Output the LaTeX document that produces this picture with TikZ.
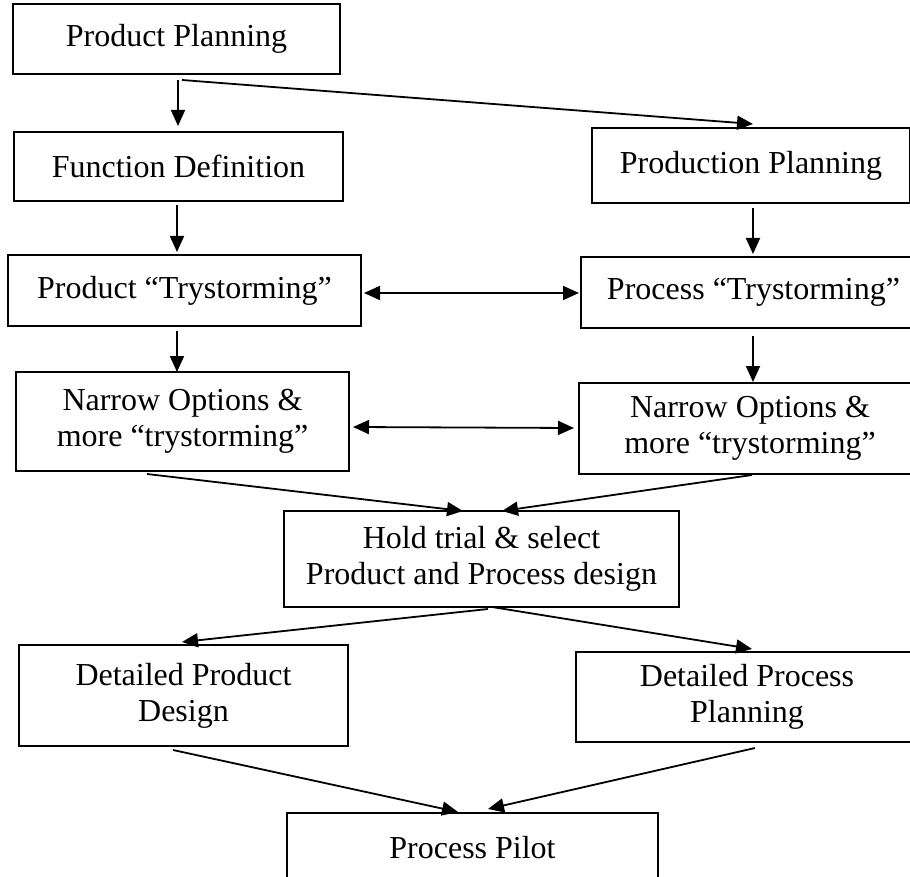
\documentclass[tikz,border=0pt]{standalone}
\usepackage{fontspec}
\setmainfont{Liberation Serif}
\usetikzlibrary{positioning,arrows.meta,calc}

\begin{document}
\begin{tikzpicture}[x=0.5pt, y=-0.5pt,
  stage/.style={rectangle, draw, line width=1pt, align=center, inner sep=0pt, font=\fontsize{16}{18}\selectfont},
  flow/.style={-{Triangle[length=8pt,width=7pt]}, line width=0.9pt},
  both/.style={{Triangle[length=8pt,width=7pt]}-{Triangle[length=8pt,width=7pt]}, line width=0.9pt},
]
  \clip (0,0) rectangle (910,877);

  % product side
  \node[stage, minimum width=163.5pt, minimum height=35pt] (PP) at (176.5,39) {Product Planning};
  \node[stage, minimum width=164.5pt, minimum height=34.5pt] (FD) at (178.5,166.5) {Function Definition};
  \node[stage, minimum width=176.5pt, minimum height=35.5pt] (PT) at (184.5,290.5) {Product “Trystorming”};
  \node[stage, minimum width=166.5pt, minimum height=49.5pt] (NL) at (182.5,421.5) {Narrow Options \&\\more “trystorming”};

  % process side
  \node[stage, minimum width=159pt, minimum height=37.5pt] (PrP) at (751,165.5) {Production Planning};
  \node[stage, minimum width=172.5pt, minimum height=35.5pt] (PcT) at (753.5,292.5) {Process “Trystorming”};
  \node[stage, minimum width=171pt, minimum height=45.5pt] (NR) at (750,428.5) {Narrow Options \&\\more “trystorming”};

  \node[stage, minimum width=197.5pt, minimum height=48pt] (HT) at (481.5,559) {Hold trial \& select\\Product and Process design};
  \node[stage, minimum width=164.5pt, minimum height=50.5pt] (DPD) at (183.5,695.5) {Detailed Product\\Design};
  \node[stage, minimum width=171pt, minimum height=45pt] (DPP) at (747,697) {Detailed Process\\Planning};
  \node[stage, minimum width=185.5pt, minimum height=35pt] (PPi) at (472.5,848) {Process Pilot};

  \draw[flow] ($(PP.south)+(1.5,5)$) -- ($(FD.north)+(-0.5,-5)$);
  \draw[flow] ($(PP.south)+(5.5,5)$) -- ($(PrP.north)+(2,-3)$);
  \draw[flow] ($(FD.south)+(-1.5,3)$) -- ($(PT.north)+(-7.5,-2)$);
  \draw[flow] ($(PrP.south)+(2,4)$) -- ($(PcT.north)+(-0.5,-2)$);
  \draw[both] ($(PT.east)+(2,2.5)$) -- ($(PcT.west)+(-1,0.5)$);
  \draw[flow] ($(PT.south)+(-7.5,4)$) -- ($(NL.north)+(-5.5,1)$);
  \draw[flow] ($(PcT.south)+(-0.5,7)$) -- ($(NR.north)+(3,0)$);
  \draw[both] ($(NL.east)+(3,5.5)$) -- ($(NR.west)+(-4,-0.5)$);

  % merge into trial, then split
  \draw[flow] ($(NL.south)+(-35.5,2)$) -- ($(HT.north)+(-18.5,1)$);
  \draw[flow] ($(NR.south)+(2,0)$) -- ($(HT.north)+(20.5,1)$);
  \draw[flow] ($(HT.south)+(6.5,1)$) -- ($(DPD.north)+(-1.5,-2)$);
  \draw[flow] ($(HT.south)+(10.5,-1)$) -- ($(DPP.north)+(5,-2)$);
  \draw[flow] ($(DPD.south)+(-10.5,3)$) -- ($(PPi.north)+(-14.5,0)$);
  \draw[flow] ($(DPP.south)+(8,5)$) -- ($(PPi.north)+(15.5,-3)$);
\end{tikzpicture}
\end{document}
